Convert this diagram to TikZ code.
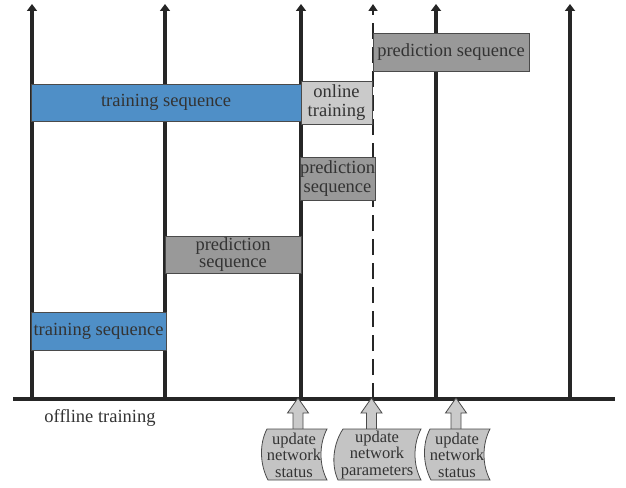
\documentclass[tikz,border=0pt]{standalone}
\usepackage{fontspec}
\setmainfont{Liberation Serif}
\usetikzlibrary{arrows.meta}
\definecolor{lineK}{HTML}{262626}
\definecolor{txtK}{HTML}{333333}
\definecolor{blueF}{HTML}{4F8FC7}
\definecolor{dgrayF}{HTML}{999999}
\definecolor{lgrayF}{HTML}{CACACA}
\definecolor{tapeF}{HTML}{C4C4C4}
\definecolor{edgeK}{HTML}{4A4A4A}
\tikzset{
  vline/.style={draw=lineK, line width=3.2pt, -{Triangle[length=7pt,width=10pt]}},
  dline/.style={draw=lineK, line width=2pt, dash pattern=on 16pt off 8pt},
  baseln/.style={draw=lineK, line width=3.4pt},
  seqbox/.style={draw=edgeK, line width=0.8pt, inner sep=0pt, text=txtK, align=center,
    font=\fontsize{18.5}{19}\selectfont},
  bluebox/.style={seqbox, fill=blueF},
  dbox/.style={seqbox, fill=dgrayF},
  lbox/.style={seqbox, fill=lgrayF},
  uparrow/.style={draw=edgeK, line width=0.8pt, fill=lgrayF},
  tapeshape/.style={draw=edgeK, line width=0.8pt, fill=tapeF},
  tapetext/.style={text=txtK, align=center, inner sep=0pt, font=\fontsize{16.5}{16.5}\selectfont},
  plain/.style={text=txtK, inner sep=0pt, font=\fontsize{18.5}{19}\selectfont}
}
\begin{document}
\begin{tikzpicture}[x=1pt,y=-1pt]
\useasboundingbox (0,0) rectangle (626,487);
% axis coordinates
\coordinate (b1) at (32,399);  \coordinate (t1) at (32,4);
\coordinate (b2) at (165,399); \coordinate (t2) at (165,4);
\coordinate (b3) at (301,399); \coordinate (t3) at (301,4);
\coordinate (b4) at (373,399); \coordinate (t4) at (373,4);
\coordinate (b5) at (436,399); \coordinate (t5) at (436,4);
\coordinate (b6) at (570,399); \coordinate (t6) at (570,4);
\coordinate (bl) at (13,399);  \coordinate (br) at (615,399);
\draw[vline] (b1) -- (t1);
\draw[vline] (b2) -- (t2);
\draw[vline] (b3) -- (t3);
\draw[vline] (b5) -- (t5);
\draw[vline] (b6) -- (t6);
\draw[dline] (b4) -- (373,14);
\draw[draw=lineK, line width=2pt, -{Triangle[length=7pt,width=9pt]}] (373,14) -- (t4);
\draw[baseln] (bl) -- (br);

% boxes
\node[bluebox, minimum width=270pt, minimum height=37pt] (ts1) at (166,102.5) {training sequence};
\node[lbox, minimum width=71pt, minimum height=43pt] (ot) at (336.5,102.5) {online\\[0pt]training};
\node[dbox, minimum width=156pt, minimum height=38pt] (ps1) at (451,52) {prediction sequence};
\node[dbox, minimum width=73pt, minimum height=43pt] (ps2) at (337.5,178.5) {prediction\\sequence};
\node[dbox, minimum width=136pt, minimum height=37pt, font=\fontsize{18.5}{17}\selectfont] (ps3) at (233,254.5) {prediction\\sequence};
\node[bluebox, minimum width=135pt, minimum height=38pt] (ts2) at (98.5,331) {training sequence};
\node[plain] (off) at (100,418) {offline training};

% block arrows
\foreach \c/\n in {298/a1,371.5/a2,456/a3}{
  \draw[uparrow] (\c,398) -- (\c+10.5,413) -- (\c+5,413) -- (\c+5,433) -- (\c-5,433) -- (\c-5,413) -- (\c-10.5,413) -- cycle;
}
% tapes
\draw[tapeshape] (267,429) -- (327,429) .. controls (319,444) and (319,465) .. (327,480)
   -- (268,480) .. controls (260,465) and (259,444) .. cycle;
\node[tapetext] (u1) at (294,455) {update\\network\\status};
\draw[tapeshape] (343,429) -- (421,429) .. controls (413,444) and (413,465) .. (421,480)
   -- (338,480) .. controls (331,465) and (333,444) .. cycle;
\node[tapetext] (u2) at (377,455) {update\\network\\parameters};
\draw[tapeshape] (430,429) -- (490,429) .. controls (482,444) and (482,465) .. (490,480)
   -- (431,480) .. controls (423,465) and (422,444) .. cycle;
\node[tapetext] (u3) at (457,455) {update\\network\\status};
\end{tikzpicture}
\end{document}
